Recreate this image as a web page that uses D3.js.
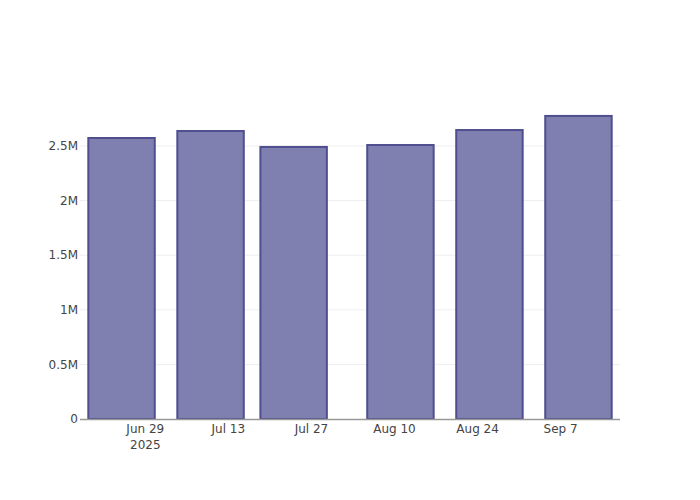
<!DOCTYPE html>
<html>
<head>
<meta charset="utf-8">
<script src="https://cdn.jsdelivr.net/npm/d3@7"></script>
<style>
  body { margin: 0; background: #fff; }
  text { font-family: "DejaVu Sans", sans-serif; }
</style>
</head>
<body>
<div id="chart"></div>
<script>
var dates = ["2025-06-25", "2025-07-10", "2025-07-24", "2025-08-11", "2025-08-26", "2025-09-10"];
var values = [2573000, 2637000, 2491000, 2509000, 2646000, 2775000];
var yTicks = [0, 500000, 1000000, 1500000, 2000000, 2500000];
var yTickLabels = ["0", "0.5M", "1M", "1.5M", "2M", "2.5M"];
var xTicks = ["2025-06-29", "2025-07-13", "2025-07-27", "2025-08-10", "2025-08-24", "2025-09-07"];
var xTickLabels = ["Jun 29", "Jul 13", "Jul 27", "Aug 10", "Aug 24", "Sep 7"];

var width = 700,
    height = 500,
    margin = {top: 100, right: 80, bottom: 80, left: 80};

var parse = d3.timeParse("%Y-%m-%d");
var day = 24 * 3600 * 1000;
var t = dates.map(parse);

var x = d3.scaleTime()
    .domain([new Date(+t[0] - 7 * day), new Date(+t[t.length - 1] + 7 * day)])
    .range([margin.left, width - margin.right]);

var y = d3.scaleLinear()
    .domain([0, 2775000 * 1.0526])
    .range([height - margin.bottom - 1, margin.top]);

var svg = d3.select("#chart").append("svg")
    .attr("width", width)
    .attr("height", height);

// grid
svg.append("g").selectAll("line")
    .data(yTicks.slice(1))
  .enter().append("line")
    .attr("x1", margin.left)
    .attr("x2", width - margin.right)
    .attr("y1", function(d) { return y(d); })
    .attr("y2", function(d) { return y(d); })
    .attr("stroke", "#eeeeee")
    .attr("stroke-width", 1);

// bars
var barW = 0.8 * 14 * day;
svg.append("g").selectAll("rect")
    .data(values)
  .enter().append("rect")
    .attr("x", function(d, i) { return x(new Date(+t[i] - barW / 2)); })
    .attr("width", function(d, i) { return x(new Date(+t[i] + barW / 2)) - x(new Date(+t[i] - barW / 2)); })
    .attr("y", function(d) { return y(d); })
    .attr("height", function(d) { return y(0) - y(d); })
    .attr("fill", "#7f7fb0")
    .attr("stroke", "#4f4f8f")
    .attr("stroke-width", 2);

// zero line
svg.append("line")
    .attr("x1", margin.left)
    .attr("x2", width - margin.right)
    .attr("y1", y(0) + 0.5)
    .attr("y2", y(0) + 0.5)
    .attr("stroke", "#999")
    .attr("stroke-width", 1.5);

// y labels
svg.append("g").selectAll("text")
    .data(yTicks)
  .enter().append("text")
    .attr("x", margin.left - 2)
    .attr("y", function(d) { return y(d); })
    .attr("dy", "0.35em")
    .attr("text-anchor", "end")
    .attr("font-size", 12)
    .attr("fill", "#444")
    .text(function(d, i) { return yTickLabels[i]; });

// x labels
svg.append("g").selectAll("text")
    .data(xTicks)
  .enter().append("text")
    .attr("x", function(d) { return x(parse(d)); })
    .attr("y", 433)
    .attr("text-anchor", "middle")
    .attr("font-size", 12)
    .attr("fill", "#444")
    .text(function(d, i) { return xTickLabels[i]; });

svg.append("text")
    .attr("x", x(parse(xTicks[0])))
    .attr("y", 449)
    .attr("text-anchor", "middle")
    .attr("font-size", 12)
    .attr("fill", "#444")
    .text("2025");
</script>
</body>
</html>
